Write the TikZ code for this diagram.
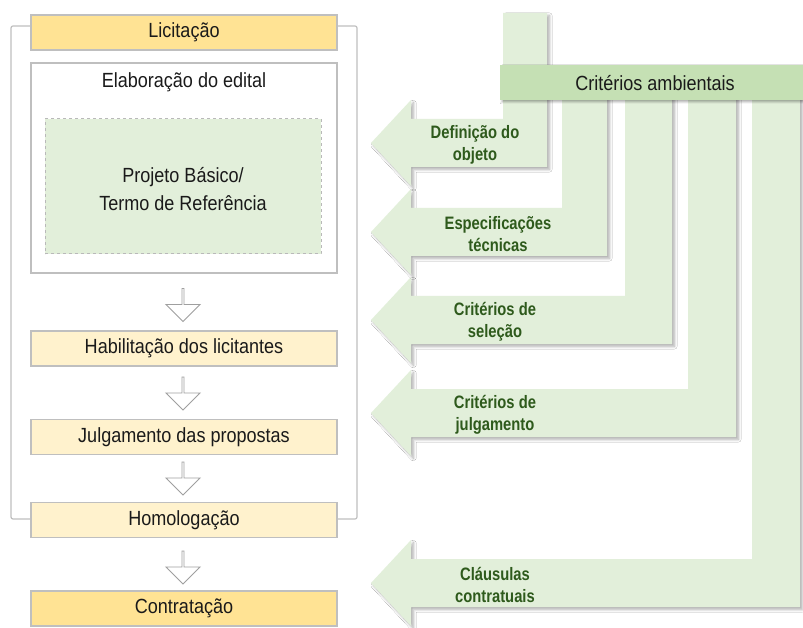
\documentclass[tikz,border=0pt]{standalone}
\usepackage{fontspec}
\setmainfont{Liberation Sans}[FakeStretch=0.88]
\newfontfamily\condfont{Liberation Sans}[FakeStretch=0.82]
\usetikzlibrary{shadows.blur,shapes.arrows}
\definecolor{gold}{HTML}{FFE394}
\definecolor{lightyel}{HTML}{FFF2CD}
\definecolor{boxgray}{HTML}{BFBFBF}
\definecolor{palegreen}{HTML}{E2EFDA}
\definecolor{midgreen}{HTML}{C5E0B4}
\definecolor{textgreen}{HTML}{2E5A1C}
\definecolor{ink}{HTML}{1A1A1A}
\tikzset{
  stagebox/.style={draw=boxgray, line width=1.3pt, minimum width=306pt, minimum height=35pt, inner sep=0pt, font=\fontsize{20.5}{24}\selectfont, text=ink},
  plaintext/.style={inner sep=0pt, font=\fontsize{20.5}{24}\selectfont, text=ink, align=center},
  hollowarrow/.style={single arrow, shape border rotate=270, draw=gray!75, fill=white, line width=0.9pt, minimum height=33pt, minimum width=34pt, single arrow head extend=7pt, inner sep=0pt},
  bracket/.style={draw=boxgray, line width=1.2pt, rounded corners=2pt},
  greenarrow/.style={fill=palegreen, blur shadow={shadow xshift=2.5pt, shadow yshift=-2.5pt, shadow blur radius=2.5pt, shadow blur steps=12, shadow opacity=32}},
  greenlabel/.style={inner sep=0pt, font=\condfont\bfseries\fontsize{18}{22}\selectfont, text=textgreen, align=center}
}
\begin{document}
\begin{tikzpicture}[x=1pt,y=-1pt]
\useasboundingbox (0,0) rectangle (803,628);
\fill[white] (0,0) rectangle (803,628);
% green arrows
\fill[greenarrow] (371,583) -- (411,540) -- (411,559) -- (752,559) -- (752,95) -- (800,95) -- (800,607) -- (411,607) -- (411,626) -- cycle;
\fill[greenarrow] (371,413) -- (411,370) -- (411,389) -- (688,389) -- (688,95) -- (736,95) -- (736,437) -- (411,437) -- (411,456) -- cycle;
\fill[greenarrow] (371,320) -- (411,277) -- (411,296) -- (625,296) -- (625,95) -- (672,95) -- (672,344) -- (411,344) -- (411,363) -- cycle;
\fill[greenarrow] (371,232) -- (411,189) -- (411,208) -- (562,208) -- (562,95) -- (607,95) -- (607,256) -- (411,256) -- (411,275) -- cycle;
\fill[greenarrow] (371,143) -- (411,100) -- (411,119) -- (503,119) -- (503,13) -- (547,13) -- (547,167) -- (411,167) -- (411,186) -- cycle;
\fill[midgreen, blur shadow={shadow xshift=2pt, shadow yshift=-2pt, shadow blur radius=2pt, shadow blur steps=8, shadow opacity=32}] (500,65) rectangle (808,100);
\node[plaintext] (crit) at (655,83) {Critérios ambientais};
\node[greenlabel] (l1) at (475,145) {Definição do\\objeto};
\node[greenlabel] (l2) at (498,234) {Especificações\\técnicas};
\node[greenlabel] (l3) at (495,322) {Critérios de\\seleção};
\node[greenlabel] (l4) at (495,415) {Critérios de\\julgamento};
\node[greenlabel] (l5) at (495,585) {Cláusulas\\contratuais};
% left column
\node[stagebox, fill=gold] (lic) at (184,32.5) {Licitação};
\node[stagebox, fill=lightyel] (hab) at (184,348.5) {Habilitação dos licitantes};
\node[stagebox, fill=lightyel] (jul) at (184,437) {Julgamento das propostas};
\node[stagebox, fill=lightyel] (homo) at (184,520) {Homologação};
\node[stagebox, fill=gold] (contr) at (184,608.5) {Contratação};
\draw[bracket] (lic.west |- 0,26) -- (11,26) -- (11,519) -- (homo.west |- 0,519);
\draw[bracket] (lic.east |- 0,26) -- (357,26) -- (357,519) -- (homo.east |- 0,519);
\node[draw=boxgray, line width=1.3pt, fill=white, minimum width=306pt, minimum height=210pt, inner sep=0pt] (elab) at (184,168) {};
\node[plaintext] (elabt) at (184,82) {Elaboração do edital};
\node[draw=gray!55, dashed, line width=1pt, fill=palegreen, minimum width=276pt, minimum height=135pt, inner sep=0pt] (proj) at (183,186.5) {};
\node[plaintext, font=\fontsize{20.5}{28}\selectfont] (projt) at (183,189) {Projeto Básico/\\Termo de Referência};
\node[hollowarrow] (a1) at (183,304.5) {};
\node[hollowarrow] (a2) at (183,393) {};
\node[hollowarrow] (a3) at (183,478) {};
\node[hollowarrow] (a4) at (183,567) {};
\end{tikzpicture}
\end{document}
